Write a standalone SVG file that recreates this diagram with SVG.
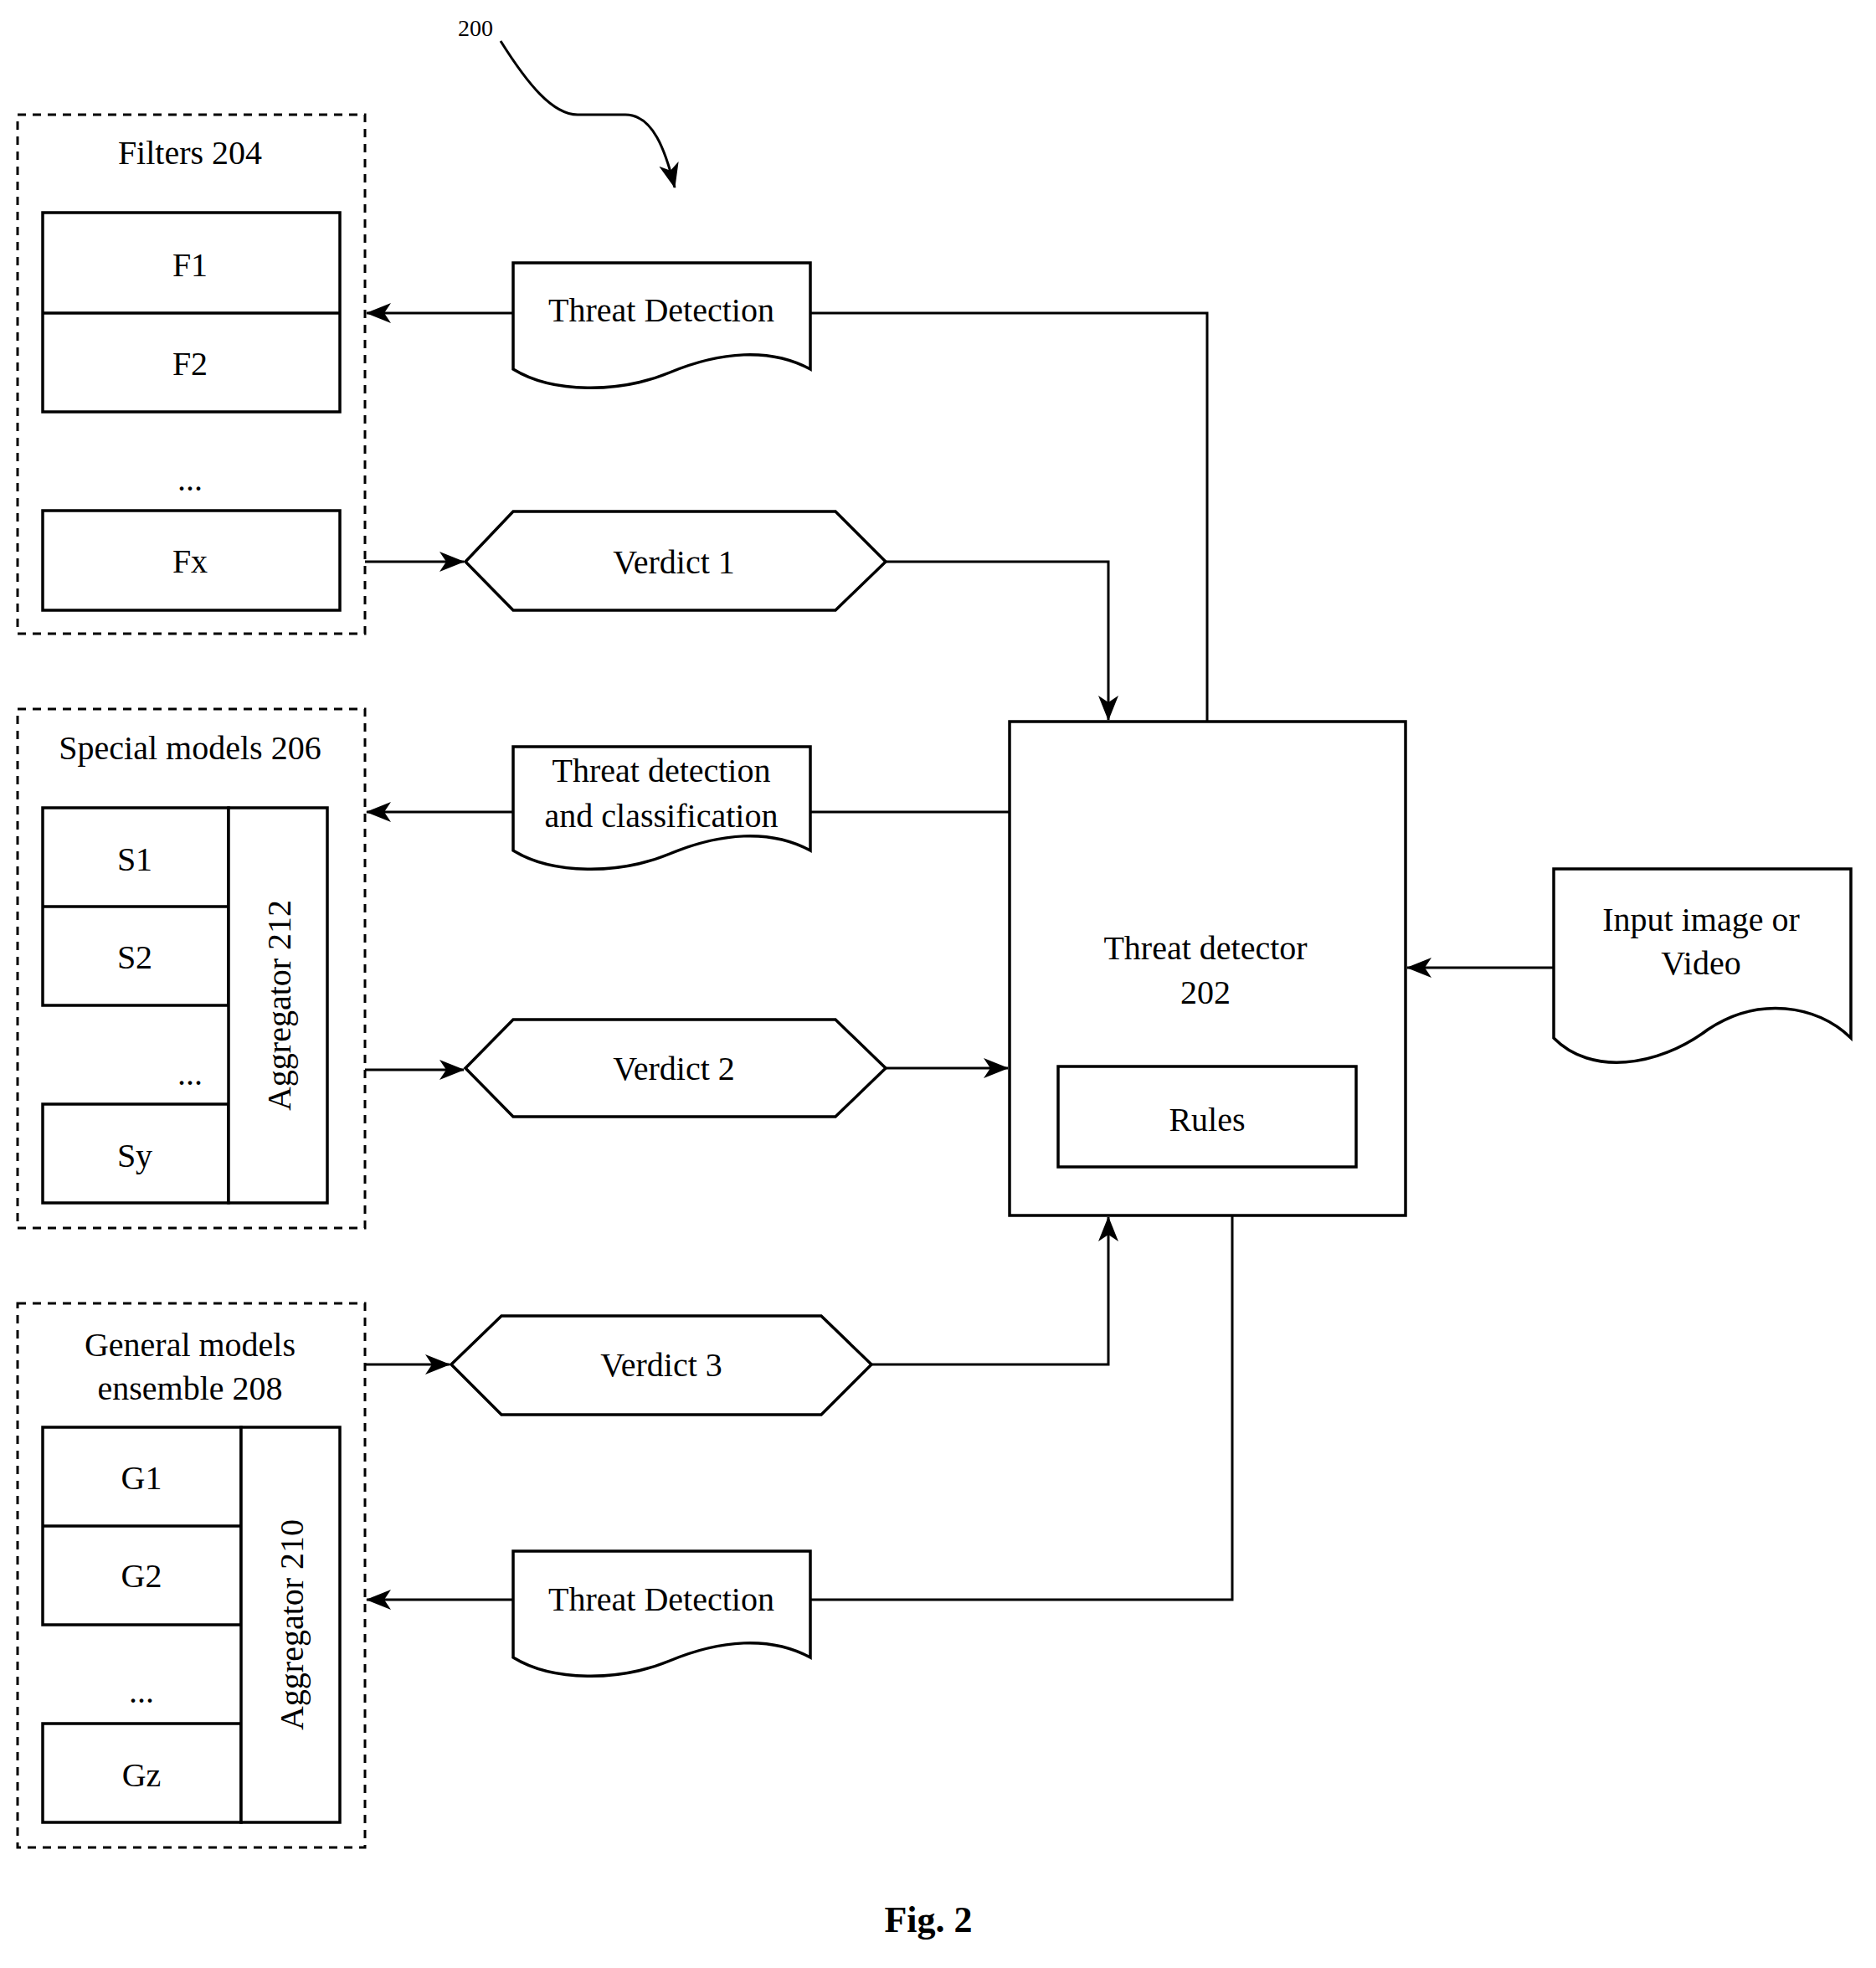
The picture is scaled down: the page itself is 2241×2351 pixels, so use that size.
<svg xmlns="http://www.w3.org/2000/svg" width="2241" height="2351" viewBox="0 0 2241 2351">
<style>
text{font-family:"Liberation Serif","Times New Roman",serif;font-size:40px;fill:#000;text-anchor:middle;dominant-baseline:central}
.b{fill:#fff;stroke:#000;stroke-width:3.5}
.d{fill:none;stroke:#000;stroke-width:3;stroke-dasharray:10 8}
.c{fill:none;stroke:#000;stroke-width:3}
</style>
<defs><marker id="a" viewBox="0 0 30 26" refX="29" refY="13" markerWidth="30" markerHeight="26" markerUnits="userSpaceOnUse" orient="auto"><path d="M0,1 L30,13 L0,25 L8,13 Z" fill="#000"/></marker></defs>
<rect width="2241" height="2351" fill="#fff"/>
<g id="ref200"><text x="568" y="33" style="font-size:28px">200</text><path class="c" d="M598,49 C630,100 660,137 690,137 H747 C780,137 795,180 806,224" marker-end="url(#a)"/></g>
<g id="filters"><rect class="d" x="21" y="137" width="415" height="620"/><text x="227" y="182">Filters 204</text>
<rect class="b" x="51" y="254" width="355" height="238"/><line class="b" x1="51" y1="374" x2="406" y2="374"/><text x="227" y="316">F1</text><text x="227" y="434">F2</text>
<text x="227" y="572">...</text><rect class="b" x="51" y="610" width="355" height="119"/><text x="227" y="670">Fx</text></g>
<g id="special"><rect class="d" x="21" y="847" width="415" height="620"/><text x="227" y="893">Special models 206</text>
<rect class="b" x="51" y="965" width="222" height="236"/><line class="b" x1="51" y1="1083" x2="273" y2="1083"/><text x="161" y="1026">S1</text><text x="161" y="1143">S2</text>
<text x="227" y="1282">...</text><rect class="b" x="51" y="1319" width="222" height="118"/><text x="161" y="1380">Sy</text>
<rect class="b" x="273" y="965" width="118" height="472"/><text transform="translate(333,1201) rotate(-90)">Aggregator 212</text></g>
<g id="general"><rect class="d" x="21" y="1557" width="415" height="650"/><text x="227" y="1606">General models</text><text x="227" y="1658">ensemble 208</text>
<rect class="b" x="51" y="1705" width="237" height="236"/><line class="b" x1="51" y1="1823" x2="288" y2="1823"/><text x="169" y="1765">G1</text><text x="169" y="1882">G2</text>
<text x="169" y="2020">...</text><rect class="b" x="51" y="2059" width="237" height="118"/><text x="169" y="2120">Gz</text>
<rect class="b" x="288" y="1705" width="118" height="472"/><text transform="translate(348,1941) rotate(-90)">Aggregator 210</text></g>
<g id="td1"><path class="b" d="M613,314 H968 V441 C920,415 860,420 800,445 C740,470 660,470 613,441 Z"/><text x="790" y="370">Threat Detection</text></g>
<g id="tdc"><path class="b" d="M613,892 H968 V1016 C920,990 860,995 800,1020 C740,1045 660,1045 613,1016 Z"/><text x="790" y="920">Threat detection</text><text x="790" y="974">and classification</text></g>
<g id="td3"><path class="b" d="M613,1853 H968 V1980 C920,1954 860,1959 800,1984 C740,2009 660,2009 613,1980 Z"/><text x="790" y="1910">Threat Detection</text></g>
<g id="v1"><path class="b" d="M556,671 L613,611 H998 L1058,671 L998,729 H613 Z"/><text x="805" y="671">Verdict 1</text></g>
<g id="v2"><path class="b" d="M556,1276 L613,1218 H998 L1058,1276 L998,1334 H613 Z"/><text x="805" y="1276">Verdict 2</text></g>
<g id="v3"><path class="b" d="M539,1630 L599,1572 H981 L1041,1630 L981,1690 H599 Z"/><text x="790" y="1630">Verdict 3</text></g>
<g id="detector"><rect class="b" x="1206" y="862" width="473" height="590"/><text x="1440" y="1132">Threat detector</text><text x="1440" y="1185">202</text>
<rect class="b" x="1264" y="1274" width="356" height="120"/><text x="1442" y="1337">Rules</text></g>
<g id="input"><path class="b" d="M1856,1038 H2211 V1240 C2170,1200 2100,1190 2040,1230 C1980,1275 1900,1285 1856,1240 Z"/><text x="2032" y="1098">Input image or</text><text x="2032" y="1150">Video</text></g>
<g id="connectors">
<path class="c" d="M613,374 H438" marker-end="url(#a)"/>
<path class="c" d="M968,374 H1442 V862"/>
<path class="c" d="M436,671 H554" marker-end="url(#a)"/>
<path class="c" d="M1058,671 H1324 V860" marker-end="url(#a)"/>
<path class="c" d="M1206,970 H968"/>
<path class="c" d="M613,970 H438" marker-end="url(#a)"/>
<path class="c" d="M436,1278 H554" marker-end="url(#a)"/>
<path class="c" d="M1058,1276 H1204" marker-end="url(#a)"/>
<path class="c" d="M436,1630 H537" marker-end="url(#a)"/>
<path class="c" d="M1041,1630 H1324 V1454" marker-end="url(#a)"/>
<path class="c" d="M1472,1452 V1911 H968"/>
<path class="c" d="M613,1911 H438" marker-end="url(#a)"/>
<path class="c" d="M1856,1156 H1681" marker-end="url(#a)"/>
</g>
<text x="1109" y="2293" style="font-weight:bold;font-size:44px">Fig. 2</text>
</svg>
